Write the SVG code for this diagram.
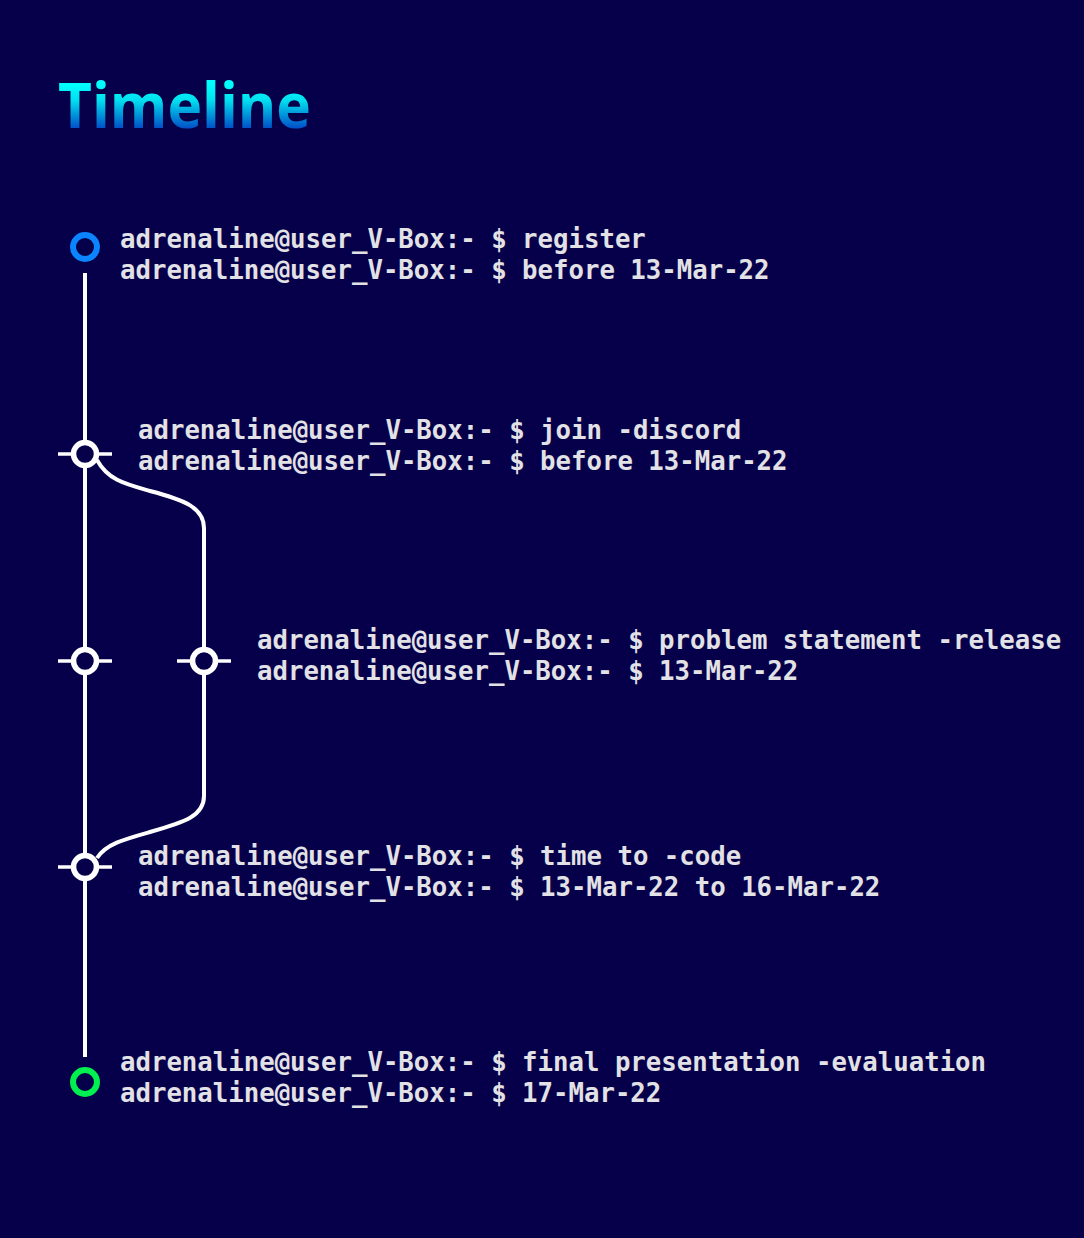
<svg xmlns="http://www.w3.org/2000/svg" width="1084" height="1238" viewBox="0 0 1084 1238">
<defs>
<linearGradient id="tg" gradientUnits="userSpaceOnUse" x1="0" y1="84" x2="0" y2="130">
<stop offset="0" stop-color="#00ffff"/>
<stop offset="0.35" stop-color="#00e0f0"/>
<stop offset="1" stop-color="#0046c4"/>
</linearGradient>
<style>
.t{font-family:"DejaVu Sans Mono","Liberation Mono",monospace;font-size:25.7px;font-weight:bold;fill:#e2e2e6}
.ln{stroke:#ffffff;stroke-width:4;fill:none;stroke-linecap:butt}
.tick{stroke:#ffffff;stroke-width:3.5}
.node{fill:#06004a;stroke:#ffffff;stroke-width:5.5}
</style>
</defs>
<rect width="1084" height="1238" fill="#06004a"/>
<text x="58" y="128" font-family="'Open Sans','Noto Sans',sans-serif" font-weight="bold" font-size="62" fill="url(#tg)" textLength="253" lengthAdjust="spacingAndGlyphs">Timeline</text>
<g id="connectors">
<line class="ln" x1="85" y1="273" x2="85" y2="1057"/>
<path class="ln" d="M97 460 C108 480 125 484 150 491 C185 500 204 508 204 528 L204 796 C204 816 185 822 150 832 C125 839 106 844 97 858"/>
</g>
<g id="node-register">
<circle cx="85" cy="247" r="12" fill="none" stroke="#0a84ff" stroke-width="6"/>
<text class="t" x="120" y="248">adrenaline@user_V-Box:- $ register</text>
<text class="t" x="120" y="279">adrenaline@user_V-Box:- $ before 13-Mar-22</text>
</g>
<g id="node-discord">
<line class="tick" x1="58" y1="454" x2="112" y2="454"/>
<circle class="node" cx="85" cy="454" r="11.5"/>
<text class="t" x="138" y="439">adrenaline@user_V-Box:- $ join -discord</text>
<text class="t" x="138" y="470">adrenaline@user_V-Box:- $ before 13-Mar-22</text>
</g>
<g id="node-problem">
<line class="tick" x1="58" y1="661" x2="112" y2="661"/>
<circle class="node" cx="85" cy="661" r="11.5"/>
<line class="tick" x1="177" y1="661" x2="231" y2="661"/>
<circle class="node" cx="204" cy="661" r="11.5"/>
<text class="t" x="257" y="649">adrenaline@user_V-Box:- $ problem statement -release</text>
<text class="t" x="257" y="680">adrenaline@user_V-Box:- $ 13-Mar-22</text>
</g>
<g id="node-code">
<line class="tick" x1="58" y1="867" x2="112" y2="867"/>
<circle class="node" cx="85" cy="867" r="11.5"/>
<text class="t" x="138" y="865">adrenaline@user_V-Box:- $ time to -code</text>
<text class="t" x="138" y="896">adrenaline@user_V-Box:- $ 13-Mar-22 to 16-Mar-22</text>
</g>
<g id="node-final">
<circle cx="85" cy="1082" r="12" fill="none" stroke="#00f050" stroke-width="6"/>
<text class="t" x="120" y="1071">adrenaline@user_V-Box:- $ final presentation -evaluation</text>
<text class="t" x="120" y="1102">adrenaline@user_V-Box:- $ 17-Mar-22</text>
</g>
</svg>
